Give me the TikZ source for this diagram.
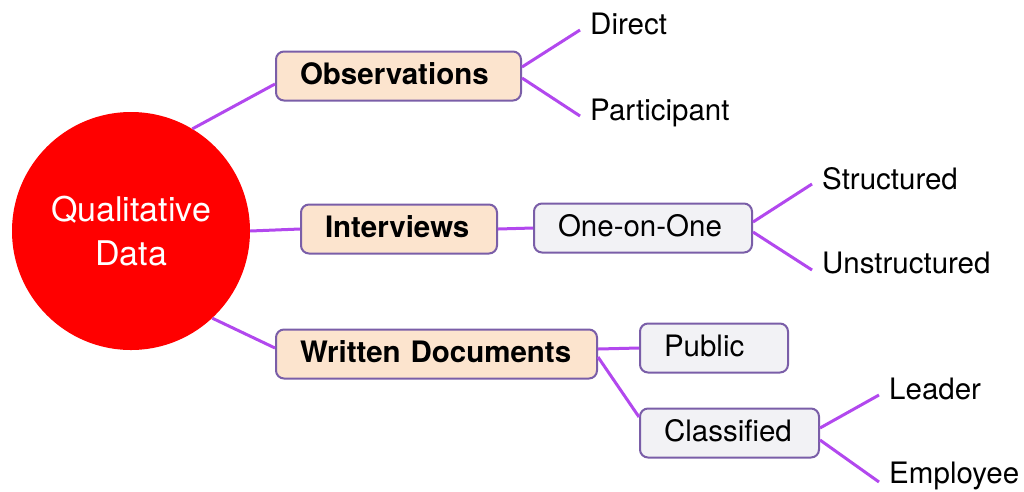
\documentclass[tikz,border=0pt]{standalone}
\usepackage{fontspec}
\setmainfont{TeX Gyre Heros}
\usepackage{tikz}
\usetikzlibrary{calc}

\definecolor{linkviolet}{RGB}{178,72,238}
\definecolor{boxborder}{RGB}{122,94,168}
\definecolor{peach}{RGB}{252,228,206}
\definecolor{boxgray}{RGB}{242,242,245}

\tikzset{
  link/.style={draw=linkviolet, line width=3pt},
  topic/.style={draw=boxborder, line width=2pt, rounded corners=8pt, fill=peach,
    anchor=west, inner xsep=24pt, inner ysep=0pt, minimum height=49pt, align=left,
    text height=21pt, text depth=4pt, font=\bfseries\fontsize{29.5}{35}\selectfont},
  subtopic/.style={topic, fill=boxgray, font=\fontsize{29.5}{35}\selectfont},
  leaf/.style={anchor=base west, inner xsep=10pt, inner ysep=0pt,
    font=\fontsize{29.5}{35}\selectfont},
}

\begin{document}
\begin{tikzpicture}[x=1pt,y=-1pt]
    \useasboundingbox (0,0) rectangle (1024,491);

    \node[circle, fill=red, minimum size=238pt, inner sep=0pt, text=white, align=center,
      font=\fontsize{34}{44}\selectfont] (qd) at (131,231) {Qualitative\\Data};

    \node[topic, text width=197pt] (obs) at (275,76) {Observations};
    \node[topic, text width=148pt] (int) at (300,229) {Interviews};
    \node[topic, text width=273pt] (wd) at (275,354) {Written~Documents};

    \node[subtopic, text width=170pt] (one) at (533,228) {One-on-One};
    \node[subtopic, text width=100pt] (pub) at (639,348) {Public};
    \node[subtopic, text width=131pt] (cls) at (639,433) {Classified};

    \node[leaf] (dir) at (580,34) {Direct};
    \node[leaf] (par) at (580,120) {Participant};
    \node[leaf] (str) at (812,189) {Structured};
    \node[leaf] (uns) at (812,273) {Unstructured};
    \node[leaf] (lea) at (879,399) {Leader};
    \node[leaf] (emp) at (879,483) {Employee};

    \draw[link] (qd.59) -- ([yshift=-8pt]obs.west);
    \draw[link] (qd.east) -- (int.west);
    \draw[link] (qd.-47) -- ([yshift=6pt]wd.west);

    \draw[link] ([yshift=9pt]obs.east) -- ([yshift=4pt]dir.base west);
    \draw[link] ([yshift=-2pt]obs.east) -- ([yshift=4pt]par.base west);
    \draw[link] (int.east) -- (one.west);
    \draw[link] ([yshift=6pt]one.east) -- ([yshift=5pt]str.base west);
    \draw[link] ([yshift=-4pt]one.east) -- ([yshift=3pt]uns.base west);
    \draw[link] ([yshift=5pt]wd.east) -- (pub.west);
    \draw[link] ([yshift=-3pt]wd.east) -- ([yshift=16pt]cls.west);
    \draw[link] ([yshift=5pt]cls.east) -- ([yshift=4pt]lea.base west);
    \draw[link] ([yshift=-7pt]cls.east) -- ([yshift=1pt]emp.base west);
  \end{tikzpicture}
\end{document}
